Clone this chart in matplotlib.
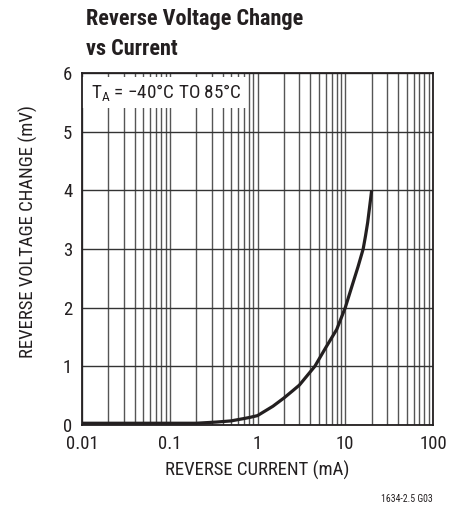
import matplotlib
matplotlib.use("Agg")
import matplotlib.pyplot as plt
from matplotlib.patches import Rectangle
from matplotlib.ticker import FixedLocator, LogLocator, NullFormatter

FONT = ["Roboto Condensed", "DejaVu Sans"]
plt.rcParams["font.family"] = FONT
plt.rcParams["mathtext.fontset"] = "custom"
plt.rcParams["mathtext.rm"] = "Roboto Condensed"
plt.rcParams["mathtext.it"] = "Roboto Condensed:italic"
plt.rcParams["mathtext.bf"] = "Roboto Condensed:bold"

# reverse current (mA) vs reverse voltage change (mV)
current_ma = [0.01, 0.1, 0.2, 0.34, 0.5, 0.7, 0.82, 1, 1.5, 2, 2.5, 3, 4.5, 6, 8, 10,
              12, 14, 16, 17, 18, 19, 20]
delta_mv = [0.03, 0.03, 0.03, 0.05, 0.07, 0.11, 0.13, 0.16, 0.32, 0.46, 0.58, 0.68,
            1.0, 1.32, 1.63, 2.0, 2.38, 2.7, 3.0, 3.22, 3.45, 3.73, 4.0]

x_ticks = [0.01, 0.1, 1, 10, 100]
x_tick_labels = ["0.01", "0.1", "1", "10", "100"]
y_ticks = [0, 1, 2, 3, 4, 5, 6]

INK = "#231f20"
W, H = 466, 508
fig = plt.figure(figsize=(W / 100, H / 100), dpi=100)
ax = fig.add_axes([82 / W, 1 - 425 / H, (433 - 82) / W, (425 - 73) / H])

ax.set_xscale("log")
ax.set_xlim(0.01, 100)
ax.set_ylim(0, 6)
ax.xaxis.set_major_locator(FixedLocator(x_ticks))
ax.xaxis.set_minor_locator(LogLocator(base=10, subs=range(2, 10)))
ax.xaxis.set_minor_formatter(NullFormatter())
ax.set_xticks(x_ticks, x_tick_labels)
ax.set_yticks(y_ticks)

ax.grid(axis="x", which="both", color="#555555", linewidth=1.0)
ax.grid(axis="y", which="major", color="#333333", linewidth=1.0)
ax.tick_params(which="both", length=0, labelsize=13.5, pad=7, colors=INK)

ax.plot(current_ma, delta_mv, color=INK, linewidth=2.3, solid_capstyle="butt",
        solid_joinstyle="round", zorder=4)

for s in ax.spines.values():
    s.set_color(INK)
    s.set_linewidth(1.3)
    s.set_zorder(6)

# white label box hiding the grid under the temperature note
ax.add_patch(Rectangle((0, 1 - (108 - 73) / 352), (247 - 82) / 351, (108 - 77) / 352,
                       transform=ax.transAxes, facecolor="white", edgecolor="none",
                       zorder=3))
ax.text(91 / W, 1 - 98 / H, "T$_\\mathrm{A}$ = \u221240\u00b0C TO 85\u00b0C",
        transform=fig.transFigure, fontsize=13.8, color=INK, zorder=5)

ax.set_xlabel("REVERSE CURRENT (mA)", fontsize=13.5, color=INK, labelpad=6)
fig.text(28 / W, 1 - 232 / H, "REVERSE VOLTAGE CHANGE (mV)", rotation=90,
         ha="center", va="center", fontsize=13.5, color=INK)

fig.text(86 / W, 1 - 25 / H, "Reverse Voltage Change", fontsize=16,
         fontweight="bold", color=INK, ha="left", va="baseline")
fig.text(86 / W, 1 - 55 / H, "vs Current", fontsize=16,
         fontweight="bold", color=INK, ha="left", va="baseline")
fig.text(433 / W, 1 - 502 / H, "1634-2.5 G03", fontsize=7, color=INK,
         ha="right", va="baseline")

fig.savefig("out.png", dpi=100, facecolor="white")
